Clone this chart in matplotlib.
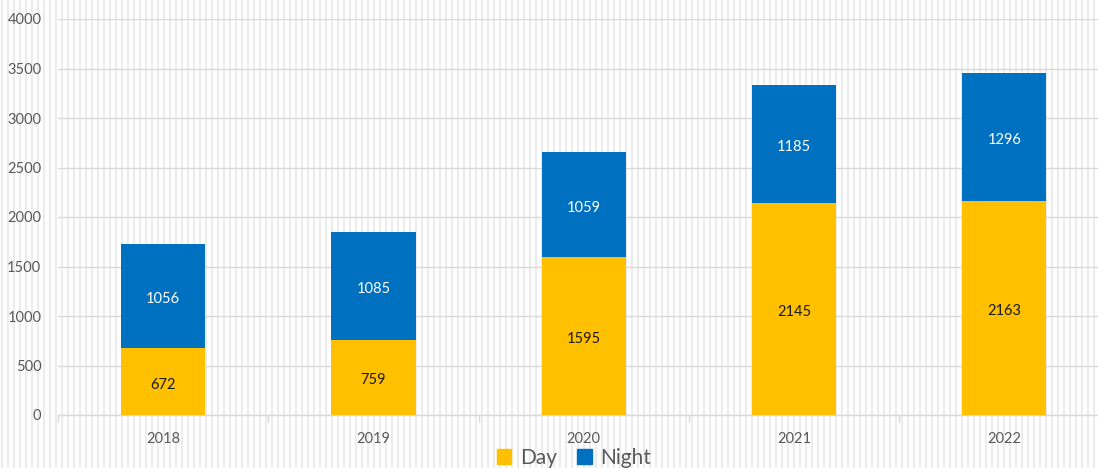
import matplotlib
matplotlib.use("Agg")
import matplotlib.pyplot as plt
import numpy as np
from matplotlib.patches import Patch

years = ["2018", "2019", "2020", "2021", "2022"]
day = [672, 759, 1595, 2145, 2163]
night = [1056, 1085, 1059, 1185, 1296]
yticks = [0, 500, 1000, 1500, 2000, 2500, 3000, 3500, 4000]

DAY_C = "#FFC000"
NIGHT_C = "#0070C0"
FONT = "Lato"

W, H = 1098, 468
fig = plt.figure(figsize=(W / 100, H / 100), dpi=100)
fig.patch.set_facecolor("white")

# background vertical stripe pattern
bg = fig.add_axes([0, 0, 1, 1], zorder=0)
bg.set_xlim(0, W)
bg.set_ylim(0, H)
bg.vlines(np.arange(2, W, 6), 0, H, colors="#ececec", linewidth=1.5)
bg.axis("off")

left, bottom, top = 58, 415, 19
right = 1109.5
ax = fig.add_axes([left / W, 1 - bottom / H, (right - left) / W, (bottom - top) / H], zorder=1)
ax.patch.set_alpha(0)

x = np.arange(len(years))
bw = 0.4
b1 = ax.bar(x, day, bw, color=DAY_C, zorder=3)
b2 = ax.bar(x, night, bw, bottom=day, color=NIGHT_C, zorder=3)

for xi, d, n in zip(x, day, night):
    ax.annotate(str(d), (xi, d / 2), xytext=(0, -2.2), textcoords="offset points",
                ha="center", va="center", fontsize=10.5,
                color="#1a1a1a", family=FONT, zorder=4)
    ax.annotate(str(n), (xi, d + n / 2), xytext=(0, -2.2), textcoords="offset points",
                ha="center", va="center", fontsize=10.5,
                color="white", family=FONT, zorder=4)

ax.set_xlim(-0.5, len(years) - 0.5)
ax.set_ylim(0, 4000)
ax.set_yticks(yticks)
ax.set_yticklabels([str(v) for v in yticks], family=FONT, fontsize=10.5, color="#595959")
ax.set_xticks(x)
ax.set_xticklabels(years, family=FONT, fontsize=10.5, color="#595959")
ax.tick_params(axis="y", length=0, pad=12)
ax.tick_params(axis="x", length=0, pad=12)
ax.set_xticks(np.arange(-0.5, len(years), 1), minor=True)
ax.tick_params(axis="x", which="minor", length=5, color="#d9d9d9", width=1)

ax.grid(axis="y", color="#d9d9d9", linewidth=1, zorder=1)
for s in ["top", "right", "left"]:
    ax.spines[s].set_visible(False)
ax.spines["bottom"].set_color("#d9d9d9")
ax.spines["bottom"].set_linewidth(1)

handles = [Patch(color=DAY_C, label="Day"), Patch(color=NIGHT_C, label="Night")]
fig.legend(handles=handles, loc="center", bbox_to_anchor=(574 / W, 1 - 458 / H),
           ncol=2, frameon=False, prop={"family": FONT, "size": 15},
           labelcolor="#595959", handlelength=0.7, handleheight=0.7,
           handletextpad=0.4, columnspacing=1.0, borderpad=0)

fig.savefig("out.png", dpi=100)
